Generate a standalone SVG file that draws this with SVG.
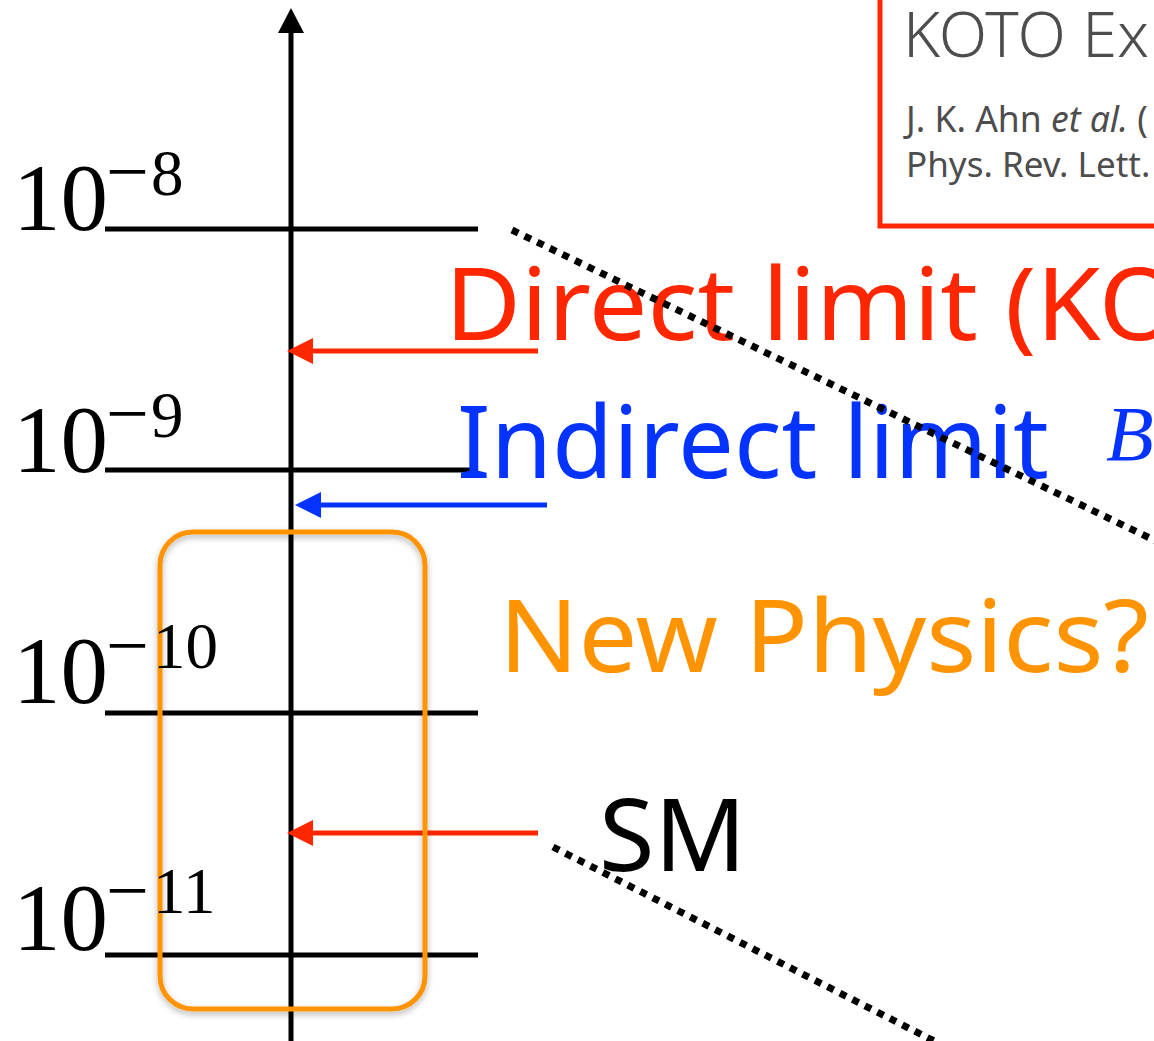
<svg xmlns="http://www.w3.org/2000/svg" width="1154" height="1041" viewBox="0 0 1154 1041">
<style>
.num{font-family:"Liberation Serif","Times New Roman",serif;font-size:95px;fill:#000}
.sup{font-family:"Liberation Serif","Times New Roman",serif;font-size:65px;fill:#000}
.mn{font-family:"Liberation Serif","Times New Roman",serif;font-size:76px;fill:#000}
.big{font-family:"Noto Sans","Open Sans",sans-serif;font-size:101px}
.tick{stroke:#000;stroke-width:5;fill:none}
.dot{stroke:#000;stroke-width:7;stroke-dasharray:7 7;fill:none}
.ref{font-family:"Noto Sans","Open Sans",sans-serif;fill:#4d4d4d}
</style>
<defs>
<marker id="hRed" markerUnits="userSpaceOnUse" viewBox="0 0 26 26" markerWidth="26" markerHeight="26" refX="13" refY="13" orient="auto"><path d="M0,0 L26,13 L0,26 z" fill="#ff2600"/></marker>
<marker id="hBlue" markerUnits="userSpaceOnUse" viewBox="0 0 26 26" markerWidth="26" markerHeight="26" refX="13" refY="13" orient="auto"><path d="M0,0 L26,13 L0,26 z" fill="#0433ff"/></marker>
<marker id="hBlack" markerUnits="userSpaceOnUse" viewBox="0 0 25 26" markerWidth="25" markerHeight="26" refX="3" refY="13" orient="auto"><path d="M0,0 L25,13 L0,26 z" fill="#000"/></marker>
<filter id="sh" x="-10%" y="-10%" width="120%" height="120%"><feDropShadow dx="0" dy="3" stdDeviation="3" flood-color="#000" flood-opacity="0.3"/></filter>
</defs>
<rect width="1154" height="1041" fill="#fff"/>

<g id="axis">
<line class="tick" x1="291" y1="1041" x2="291" y2="30" marker-end="url(#hBlack)"/>
<line class="tick" x1="105" y1="229" x2="478" y2="229"/>
<line class="tick" x1="105" y1="470" x2="470" y2="470"/>
<line class="tick" x1="105" y1="713" x2="478" y2="713"/>
<line class="tick" x1="105" y1="955" x2="478" y2="955"/>
</g>

<g id="ref-box">
<rect x="880" y="-20" width="320" height="246" fill="none" stroke="#ff2600" stroke-width="5"/>
<text class="ref" x="903" y="57" font-size="63" font-weight="300">KOTO Ex</text>
<text class="ref" x="906" y="132" font-size="35.5">J. K. Ahn <tspan font-style="italic">et al.</tspan> (</text>
<text class="ref" x="906" y="177" font-size="35">Phys. Rev. Lett.</text>
</g>

<g id="connectors">
<line x1="538" y1="351" x2="300" y2="351" stroke="#ff2600" stroke-width="5" marker-end="url(#hRed)"/>
<line x1="547" y1="505" x2="308" y2="505" stroke="#0433ff" stroke-width="5" marker-end="url(#hBlue)"/>
<line x1="538" y1="833" x2="300" y2="833" stroke="#ff2600" stroke-width="5" marker-end="url(#hRed)"/>
</g>

<g id="np-box">
<rect x="160" y="532" width="265" height="477" rx="33" fill="none" stroke="#ff9300" stroke-width="5" filter="url(#sh)"/>
</g>

<g id="label-1e-8"><text class="num" x="13" y="230">10</text><text class="mn" x="106" y="197">−</text><text class="sup" x="151" y="195">8</text></g>
<g id="label-1e-9"><text class="num" x="13" y="472">10</text><text class="mn" x="106" y="439">−</text><text class="sup" x="151" y="437">9</text></g>
<g id="label-1e-10"><text class="num" x="13" y="703">10</text><text class="mn" x="106" y="671">−</text><text class="sup" x="153" y="668">10</text></g>
<g id="label-1e-11"><text class="num" x="13" y="950">10</text><text class="mn" x="106" y="916">−</text><text class="sup" x="153" y="913">11</text></g>

<g id="direct-limit"><text class="big" x="445" y="340" fill="#ff2600" textLength="735" lengthAdjust="spacingAndGlyphs">Direct limit (KO</text></g>
<g id="indirect-limit"><text class="big" x="457" y="478" fill="#0433ff" textLength="592" lengthAdjust="spacingAndGlyphs">Indirect limit</text>
<text x="1106" y="460" font-family="Liberation Serif,serif" font-style="italic" font-size="78" fill="#0433ff">B</text></g>
<g id="new-physics"><text class="big" x="499" y="672" fill="#ff9300" textLength="650" lengthAdjust="spacingAndGlyphs">New Physics?</text></g>
<g id="sm"><text class="big" x="599" y="871" fill="#000">SM</text></g>

<g id="zoom-lines">
<line class="dot" x1="512" y1="230" x2="1160" y2="543"/>
<line class="dot" x1="553" y1="847" x2="938" y2="1043"/>
</g>
</svg>
